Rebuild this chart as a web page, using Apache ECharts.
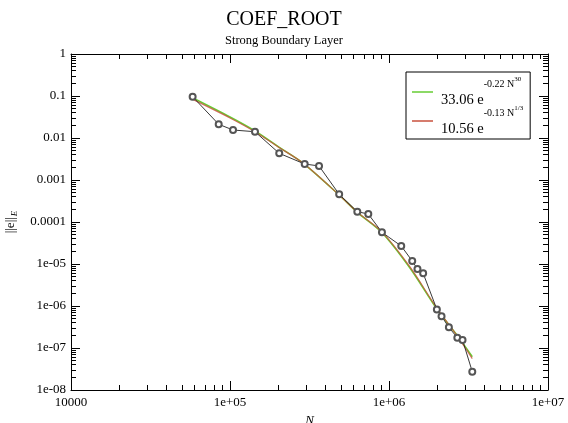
<!DOCTYPE html>
<html lang="en">
<head>
    <meta charset="UTF-8">
    <title>COEF_ROOT</title>
    <script src="https://cdn.jsdelivr.net/npm/echarts@6/dist/echarts.min.js"></script>
    <style>
        body{margin:0;background:#fff}
        #chart{width:568px;height:423px}
    </style>
</head>
<body>
    <div id="chart"></div>
    <script>
        // measured points (N, ||e||_E)
        var dofs=[58200,84900,104500,143600,204000,295000,363000,486000,632000,741000,903000,
                  1194000,1400000,1510000,1640000,2000000,2140000,2380000,2690000,2900000,3340000];
        var errs=[0.096,0.0212,0.0155,0.0141,0.00432,0.0024,0.00216,0.000457,0.000176,0.000155,5.68e-5,
                  2.68e-5,1.18e-5,7.6e-6,6.0e-6,8.3e-7,5.7e-7,3.1e-7,1.76e-7,1.55e-7,2.73e-8];
        // fit curves
        var fitN=[58800,100000,143600,200000,289000,486000,632000,899000,1355000,2000000,2670000,3340000];
        var fitGreen=[0.0881,0.0316,0.0147,0.0063,0.0025,0.00044,0.00017,5.7e-5,8.0e-6,8.5e-7,2.04e-7,6.2e-8];
        var fitRed=[0.082,0.0300,0.0141,0.0062,0.0025,0.00044,0.000172,5.9e-5,8.5e-6,8.9e-7,2.0e-7,5.6e-8];
        var xMinor=[2e4,3e4,4e4,5e4,6e4,7e4,8e4,9e4,2e5,3e5,4e5,5e5,6e5,7e5,8e5,9e5,2e6,3e6,4e6,5e6,6e6,7e6,8e6,9e6];

        function pair(a,b){ var r=[]; for(var i=0;i<a.length;i++) r.push([a[i],b[i]]); return r; }
        var yMinor=[];
        for(var d=-8;d<0;d++){ for(var k=2;k<=9;k++) yMinor.push(Math.log10(k)+d); }
        var xMinorLog=xMinor.map(function(v){return Math.log10(v);});

        var serif='Liberation Serif';
        function xFmt(v){ var e=Math.round(Math.log10(v)); return e<5 ? '10000' : '1e+0'+e; }
        function yFmt(v){ var e=Math.round(Math.log10(v)); if(e===0) return '1'; if(e>=-4) return Math.pow(10,e).toFixed(-e); return '1e-0'+(-e); }

        // helper axes in log10 space, only for the 2..9 minor ticks
        function minorAxis(pos,isX,vals){
            return {
                type:'value', position:pos, min:isX?4:-8, max:isX?7:0,
                axisLine:{show:false, onZero:false}, splitLine:{show:false}, axisLabel:{show:false},
                axisTick:{show:true, inside:true, length:5, customValues:vals, lineStyle:{color:'#000',width:1}}
            };
        }
        function majorAxis(pos,isX,showLabel){
            return {
                type:'log', position:pos,
                min:isX?1e4:1e-8, max:isX?1e7:1,
                axisLine:{show:true, onZero:false, lineStyle:{color:'#000',width:1}},
                splitLine:{show:false},
                axisTick:{show:true, inside:true, length:9, lineStyle:{color:'#000',width:1}},
                axisLabel:{show:showLabel, color:'#000', fontFamily:serif, fontSize:13,
                           formatter:isX?xFmt:yFmt, margin:isX?6:5}
            };
        }

        var chart=echarts.init(document.getElementById('chart'));
        var xb=majorAxis('bottom',true,true);
        xb.name='N'; xb.nameLocation='middle'; xb.nameGap=24;
        xb.nameTextStyle={fontFamily:serif, fontStyle:'italic', fontSize:13, color:'#000'};
        var yl=majorAxis('left',false,true);
        yl.name='{a|||e||}{b|E}'; yl.nameLocation='middle'; yl.nameGap=52;
        yl.nameTextStyle={fontFamily:serif, color:'#000', rich:{
            a:{fontFamily:serif, fontSize:13, color:'#000', verticalAlign:'top'},
            b:{fontFamily:serif, fontStyle:'italic', fontSize:9, color:'#000', verticalAlign:'bottom', padding:[6,0,0,1]}
        }};

        var option={
            backgroundColor:'#fff',
            animation:false,
            title:{
                text:'COEF_ROOT', subtext:'Strong Boundary Layer', left:'center', top:5, itemGap:4,
                textStyle:{fontFamily:serif, fontSize:20, fontWeight:'normal', color:'#000'},
                subtextStyle:{fontFamily:serif, fontSize:12.5, color:'#000'}
            },
            grid:{left:71, right:20, top:54, bottom:33, outerBoundsMode:'none'},
            xAxis:[xb, majorAxis('top',true,false), minorAxis('bottom',true,xMinorLog), minorAxis('top',true,xMinorLog)],
            yAxis:[yl, majorAxis('right',false,false), minorAxis('left',false,yMinor), minorAxis('right',false,yMinor)],
            legend:{
                orient:'vertical', left:406, top:72,
                backgroundColor:'#fff', borderColor:'#000', borderWidth:1, borderRadius:0,
                padding:[4,7,2,6], itemGap:-3, itemWidth:21, itemHeight:1.5,
                icon:'rect',
                data:['green','red'],
                formatter:function(n){
                    if(n==='green') return '{a|33.06 e}{s|-0.22 N}{t|30}';
                    return '{a|10.56 e}{s|-0.13 N}{t|1/3}';
                },
                textStyle:{fontFamily:serif, color:'#000', rich:{
                    a:{fontFamily:serif, fontSize:14.5, color:'#000', verticalAlign:'bottom', padding:[17,0,0,3]},
                    s:{fontFamily:serif, fontSize:10, color:'#000', verticalAlign:'top', padding:[3,0,0,0]},
                    t:{fontFamily:serif, fontSize:7, color:'#000', verticalAlign:'top'}
                }}
            },
            series:[
                {name:'green', type:'line', smooth:0.3, showSymbol:false, symbol:'none', data:pair(fitN,fitGreen),
                 lineStyle:{color:'#66cc33', width:1.6}, itemStyle:{color:'#66cc33'}},
                {name:'red', type:'line', smooth:0.3, showSymbol:false, symbol:'none', data:pair(fitN,fitRed),
                 lineStyle:{color:'#c8503c', width:1.2, opacity:0.8}, itemStyle:{color:'#c8503c'}},
                {name:'data', type:'line', data:pair(dofs,errs), symbol:'emptyCircle', symbolSize:6,
                 lineStyle:{color:'#222', width:0.9}, itemStyle:{color:'#555', borderWidth:0.8}}
            ]
        };
        chart.setOption(option);
    </script>
</body>
</html>
